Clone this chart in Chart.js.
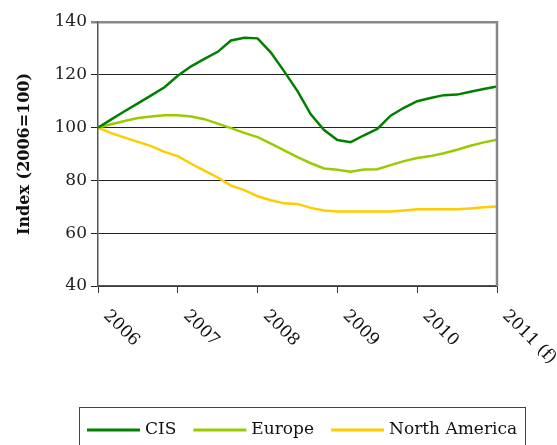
<!DOCTYPE html>
<html>
<head>
<meta charset="utf-8">
<script src="https://cdn.jsdelivr.net/npm/chart.js@4.4.1/dist/chart.umd.min.js"></script>
<style>
  html, body { margin: 0; padding: 0; background: #fff; }
  #wrap { width: 557px; height: 445px; }
</style>
</head>
<body>
<div id="wrap"><canvas id="grap1"></canvas></div>
<script>
// months since Jan 2006, one point every two months
var months = [0, 2, 4, 6, 8, 10, 12, 14, 16, 18, 20, 22, 24, 26, 28, 30,
              32, 34, 36, 38, 40, 42, 44, 46, 48, 50, 52, 54, 56, 58, 60];
var yearLabels = ["2006", "2007", "2008", "2009", "2010", "2011 (f)"];
var yearTicks = [0, 12, 24, 36, 48, 60];

var cis = [100, 103.1, 106.2, 109.2, 112.2, 115.3, 119.6, 123.2, 126, 128.7, 133,
           134, 133.8, 128.4, 121.3, 113.8, 105, 99.1, 95.3, 94.5, 97.1, 99.5,
           104.5, 107.5, 110, 111.2, 112.3, 112.5, 113.6, 114.6, 115.6];
var europe = [100, 101.3, 102.5, 103.6, 104.2, 104.7, 104.7, 104.2, 103.2, 101.5, 99.8,
              98, 96.4, 93.9, 91.4, 88.8, 86.5, 84.5, 84, 83.3, 84.1, 84.2,
              85.8, 87.3, 88.5, 89.2, 90.3, 91.6, 93.1, 94.4, 95.4];
var northAmerica = [100, 97.9, 96.2, 94.6, 93, 90.8, 89.2, 86.3, 83.7, 81.1, 78,
                    76.3, 74, 72.5, 71.3, 71.1, 69.6, 68.6, 68.2, 68.2, 68.2, 68.2,
                    68.2, 68.6, 69.1, 69.1, 69.1, 69.1, 69.4, 69.8, 70.1];

var seriesNames = ["CIS", "Europe", "North America"];
var seriesColors = ["rgb(0, 128, 0)", "rgb(153, 204, 0)", "rgb(255, 204, 0)"];

var FONT = "'DejaVu Serif', 'Liberation Serif', serif";

function points(vals) {
    return months.map(function (m, i) { return { x: m, y: vals[i] }; });
}

// year labels slanted downward to the right, starting at each tick
var yearLabelPlugin = {
    id: 'yearLabels',
    afterDraw: function (chart) {
        var ctx = chart.ctx;
        var xs = chart.scales.x;
        ctx.save();
        ctx.font = "17px " + FONT;
        ctx.fillStyle = "#111";
        ctx.textAlign = "left";
        ctx.textBaseline = "middle";
        yearTicks.forEach(function (v, i) {
            var px = xs.getPixelForValue(v);
            ctx.save();
            ctx.translate(px + 8, chart.chartArea.bottom + 27);
            ctx.rotate(Math.PI / 4);
            ctx.fillText(yearLabels[i], 0, 0);
            ctx.restore();
        });
        ctx.restore();
    }
};

// right border of the plot and the boxed legend at the bottom
var framePlugin = {
    id: 'frame',
    afterDraw: function (chart) {
        var ctx = chart.ctx;
        var a = chart.chartArea;
        ctx.save();
        ctx.strokeStyle = "#888";
        ctx.lineWidth = 2.5;
        ctx.beginPath();
        ctx.moveTo(a.right, a.top - 1);
        ctx.lineTo(a.right, a.bottom);
        ctx.stroke();

        ctx.strokeStyle = "#444";
        ctx.lineWidth = 1;
        ctx.strokeRect(79.5, 407.5, 446, 50);

        ctx.font = "17px " + FONT;
        ctx.fillStyle = "#111";
        ctx.textBaseline = "middle";
        var x = 87, y = 430;
        chart.data.datasets.forEach(function (ds) {
            ctx.strokeStyle = ds.borderColor;
            ctx.lineWidth = 3;
            ctx.beginPath();
            ctx.moveTo(x, y);
            ctx.lineTo(x + 53, y);
            ctx.stroke();
            ctx.fillText(ds.label, x + 58, y);
            x = x + 58 + ctx.measureText(ds.label).width + 17;
        });
        ctx.restore();
    }
};

var ctx = document.getElementById('grap1').getContext('2d');
var chart = new Chart(ctx, {
    type: 'line',
    data: {
        datasets: [
            {
                label: seriesNames[0],
                data: points(cis),
                borderColor: seriesColors[0],
                backgroundColor: seriesColors[0],
                borderWidth: 2.5,
                pointRadius: 0,
                fill: false,
                tension: 0
            },
            {
                label: seriesNames[1],
                data: points(europe),
                borderColor: seriesColors[1],
                backgroundColor: seriesColors[1],
                borderWidth: 2.5,
                pointRadius: 0,
                fill: false,
                tension: 0
            },
            {
                label: seriesNames[2],
                data: points(northAmerica),
                borderColor: seriesColors[2],
                backgroundColor: seriesColors[2],
                borderWidth: 2.5,
                pointRadius: 0,
                fill: false,
                tension: 0
            }
        ]
    },
    options: {
        responsive: true,
        maintainAspectRatio: false,
        animation: false,
        layout: { padding: { top: 22, right: 60, left: 0, bottom: 0 } },
        plugins: {
            legend: { display: false },
            tooltip: { enabled: false }
        },
        scales: {
            x: {
                type: 'linear',
                min: 0,
                max: 60,
                afterBuildTicks: function (s) {
                    s.ticks = yearTicks.map(function (v) { return { value: v }; });
                },
                afterFit: function (s) { s.height = 159; },
                ticks: { display: false },
                grid: {
                    drawOnChartArea: false,
                    drawTicks: true,
                    tickLength: 7,
                    color: '#333'
                },
                border: { color: '#555', width: 1.5 }
            },
            y: {
                min: 40,
                max: 140,
                afterFit: function (s) { s.width = 98; },
                ticks: {
                    stepSize: 20,
                    color: '#222',
                    padding: 4,
                    font: { family: FONT, size: 17 }
                },
                grid: {
                    tickLength: 7,
                    color: function (c) { return c.tick && c.tick.value === 140 ? '#888' : '#222'; },
                    lineWidth: function (c) { return c.tick && c.tick.value === 140 ? 2.5 : 1; }
                },
                border: { color: '#555', width: 1.5 },
                title: {
                    display: true,
                    text: 'Index (2006=100)',
                    color: '#111',
                    padding: { top: 15, bottom: 6 },
                    font: { family: FONT, size: 16, weight: 'bold' }
                }
            }
        }
    },
    plugins: [yearLabelPlugin, framePlugin]
});
</script>
</body>
</html>
